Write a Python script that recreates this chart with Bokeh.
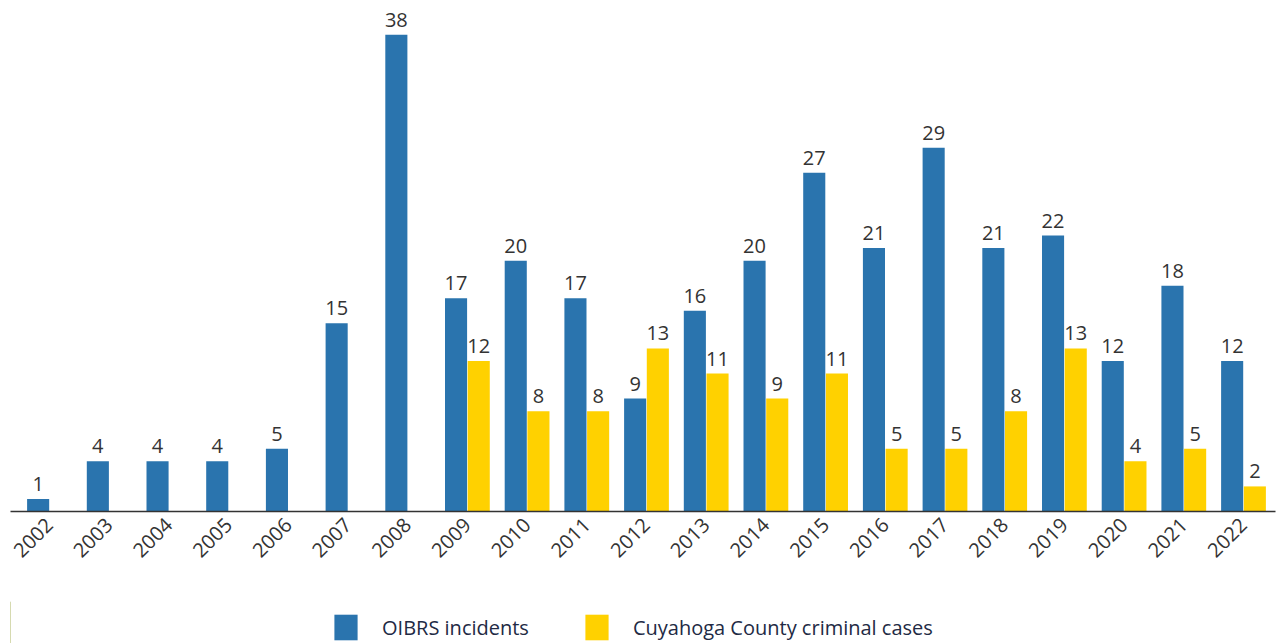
import math
from bokeh.plotting import figure
from bokeh.layouts import column
from bokeh.models import ColumnDataSource, Legend, LegendItem, FixedTicker, Range1d
from bokeh.core.properties import value
from bokeh.embed import file_html
from bokeh.resources import INLINE

years = [str(y) for y in range(2002, 2023)]
oibrs = [1, 4, 4, 4, 5, 15, 38, 17, 20, 17, 9, 16, 20, 27, 21, 29, 21, 22, 12, 18, 12]
cuy_years = [str(y) for y in range(2009, 2023)]
cuyahoga = [12, 8, 8, 13, 11, 9, 11, 5, 5, 8, 13, 4, 5, 2]
series_names = ["OIBRS incidents", "Cuyahoga County criminal cases"]

BLUE = "#2A74AE"
YELLOW = "#FFD100"
TXT = "#333333"
FONT = "Open Sans"

xi = list(range(len(years)))
src_b = ColumnDataSource(dict(x=[i - 0.19 for i in xi], top=oibrs, lab=[str(v) for v in oibrs]))
cx = [years.index(y) + 0.19 for y in cuy_years]
src_y = ColumnDataSource(dict(x=cx, top=cuyahoga, lab=[str(v) for v in cuyahoga]))

p = figure(width=1278, height=601, output_backend="svg", toolbar_location=None,
           x_range=Range1d(-0.653, 20.536), y_range=Range1d(0, 40.1),
           min_border_left=10, min_border_right=3, min_border_top=8, min_border_bottom=90)
p.outline_line_color = None
p.xgrid.visible = False
p.ygrid.visible = False
p.yaxis.visible = False

rb = p.vbar(x="x", top="top", width=0.37, source=src_b, fill_color=BLUE, line_color=None)
ry = p.vbar(x="x", top="top", width=0.37, source=src_y, fill_color=YELLOW, line_color=None)

for s in (src_b, src_y):
    p.text(x="x", y="top", text="lab", source=s, text_align="center", text_baseline="bottom",
           y_offset=-8, text_font=value(FONT), text_font_size="20px", text_color=TXT)

ax = p.xaxis[0]
ax.ticker = FixedTicker(ticks=xi)
ax.major_label_overrides = {i: y for i, y in zip(xi, years)}
ax.major_label_orientation = math.pi / 4
ax.major_label_text_font = FONT
ax.major_label_text_font_size = "20px"
ax.major_label_text_color = TXT
ax.major_tick_line_color = None
ax.minor_tick_line_color = None
ax.axis_line_color = "#333333"
ax.axis_line_width = 1.5
ax.major_label_standoff = 4

# legend strip below the chart (swatch renderers sit outside the visible range)
lg = figure(width=1278, height=42, output_backend="svg", toolbar_location=None,
            x_range=Range1d(0, 1), y_range=Range1d(0, 1),
            min_border_left=0, min_border_right=0, min_border_top=0, min_border_bottom=0)
lg.outline_line_color = None
lg.xgrid.visible = False
lg.ygrid.visible = False
lg.xaxis.visible = False
lg.yaxis.visible = False
sw_b = ColumnDataSource(dict(x=[-10], top=[1]))
sw_y = ColumnDataSource(dict(x=[-10], top=[1]))
lb = lg.vbar(x="x", top="top", width=0.1, source=sw_b, fill_color=BLUE, line_color=None)
ly = lg.vbar(x="x", top="top", width=0.1, source=sw_y, fill_color=YELLOW, line_color=None)

legend = Legend(items=[LegendItem(label=series_names[0], renderers=[lb]),
                       LegendItem(label=series_names[1], renderers=[ly])],
                orientation="horizontal", location=(321, 0),
                label_text_font=FONT, label_text_font_size="20px", label_text_color="#222A44",
                glyph_width=29, glyph_height=32, label_standoff=22, spacing=53,
                border_line_color=None, background_fill_alpha=0, padding=0, margin=0)
lg.add_layout(legend, "center")

layout = column(p, lg, spacing=0)
open("out.html", "w").write(file_html(layout, INLINE))
